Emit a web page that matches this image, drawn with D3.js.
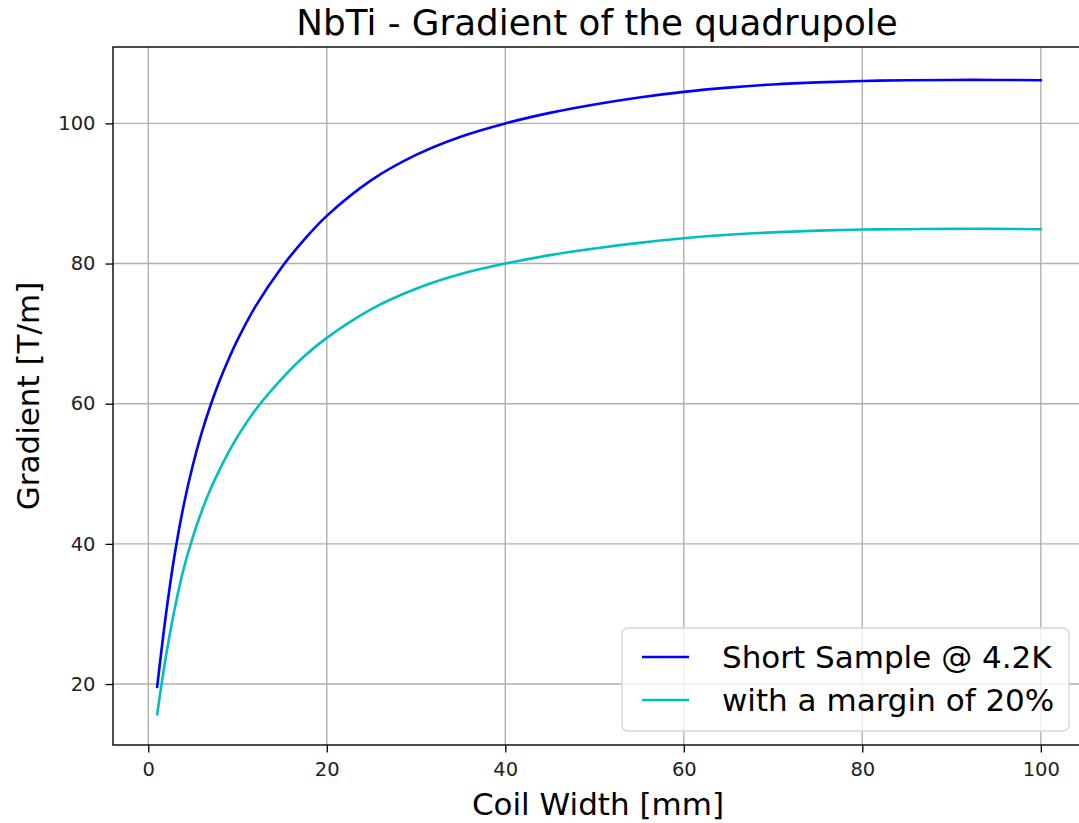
<!DOCTYPE html>
<html>
<head>
<meta charset="utf-8">
<script src="https://cdn.jsdelivr.net/npm/d3@7"></script>
<style>
  html, body { margin: 0; padding: 0; background: #ffffff; }
  svg { display: block; font-family: "DejaVu Sans", sans-serif; }
</style>
</head>
<body>
<svg id="chart" width="1079" height="823"></svg>
<script>
// Coil width samples [mm]
const coilWidth = [1, 2, 3, 4, 5, 6, 7, 8, 9, 10, 12, 15, 17.5, 20, 25, 30, 35, 40, 45, 50, 55, 60, 65, 70, 75, 80, 85, 90, 95, 100];
// Short-sample gradient at 4.2 K [T/m]
const gradientShortSample = [19.6, 30.1, 38.8, 45.7, 51.25, 55.9, 59.85, 63.3, 66.35, 69.1, 73.85, 79.55, 83.45, 86.8, 91.9, 95.5, 98.1, 100.0, 101.5, 102.7, 103.7, 104.5, 105.1, 105.55, 105.85, 106.05, 106.15, 106.2, 106.2, 106.15];
// Gradient with a 20% margin [T/m]
const gradientMargin = [15.7, 24.1, 31.0, 36.6, 41.0, 44.7, 47.9, 50.6, 53.1, 55.3, 59.1, 63.6, 66.8, 69.4, 73.5, 76.4, 78.5, 80.0, 81.2, 82.15, 82.95, 83.6, 84.1, 84.45, 84.7, 84.85, 84.9, 84.95, 84.95, 84.9];

const xTicks = [0, 20, 40, 60, 80, 100];
const yTicks = [20, 40, 60, 80, 100];

const seriesNames = ["Short Sample @ 4.2K", "with a margin of 20%"];
const seriesColors = ["#0000ff", "#00bfbf"];

const svg = d3.select("#chart");

const plotLeft = 113, plotRight = 1085, plotTop = 47, plotBottom = 745;

const x = d3.scaleLinear().domain([-3.95, 104.95]).range([plotLeft, plotRight]);
const y = d3.scaleLinear().domain([11.3, 110.9]).range([plotBottom, plotTop]);

// grid
const grid = svg.append("g");
grid.selectAll(".gx").data(xTicks).join("line")
  .attr("x1", d => x(d)).attr("x2", d => x(d))
  .attr("y1", plotTop).attr("y2", plotBottom)
  .attr("stroke", "#b0b0b0").attr("stroke-width", 1.4);
grid.selectAll(".gy").data(yTicks).join("line")
  .attr("x1", plotLeft).attr("x2", plotRight)
  .attr("y1", d => y(d)).attr("y2", d => y(d))
  .attr("stroke", "#b0b0b0").attr("stroke-width", 1.4);

// curves
const rows = [gradientShortSample, gradientMargin];
const line = d3.line()
  .x((d, i) => x(coilWidth[i]))
  .y(d => y(d))
  .curve(d3.curveCatmullRom.alpha(0.5));

svg.append("g").selectAll("path").data(rows).join("path")
  .attr("d", d => line(d))
  .attr("fill", "none")
  .attr("stroke", (d, i) => seriesColors[i])
  .attr("stroke-width", 2.6)
  .attr("stroke-linecap", "square");

// axes
const xAxis = d3.axisBottom(x).tickValues(xTicks).tickSize(7.5).tickPadding(10).tickFormat(d3.format("d"));
const yAxis = d3.axisLeft(y).tickValues(yTicks).tickSize(7.5).tickPadding(10).tickFormat(d3.format("d"));

const gx = svg.append("g").attr("transform", `translate(0,${plotBottom})`).call(xAxis);
const gy = svg.append("g").attr("transform", `translate(${plotLeft},0)`).call(yAxis);
[gx, gy].forEach(g => {
  g.select(".domain").remove();
  g.selectAll(".tick line").attr("stroke", "#000").attr("stroke-width", 1.3);
  g.selectAll(".tick text").attr("font-size", 19.5).attr("fill", "#222")
    .attr("font-family", "DejaVu Sans, sans-serif");
});

// frame
svg.append("rect")
  .attr("x", plotLeft).attr("y", plotTop)
  .attr("width", plotRight - plotLeft).attr("height", plotBottom - plotTop)
  .attr("fill", "none").attr("stroke", "#000").attr("stroke-width", 1.4);

// title and axis labels
svg.append("text")
  .attr("x", 597).attr("y", 35)
  .attr("text-anchor", "middle").attr("font-size", 35.7).attr("fill", "#000")
  .text("NbTi - Gradient of the quadrupole");

svg.append("text")
  .attr("x", 598).attr("y", 815)
  .attr("text-anchor", "middle").attr("font-size", 31).attr("fill", "#000")
  .text("Coil Width [mm]");

svg.append("text")
  .attr("transform", `translate(39,${(plotTop + plotBottom) / 2}) rotate(-90)`)
  .attr("text-anchor", "middle").attr("font-size", 31).attr("fill", "#000")
  .text("Gradient [T/m]");

// legend
const legend = svg.append("g");
legend.append("rect")
  .attr("x", 622).attr("y", 628).attr("width", 447).attr("height", 103)
  .attr("rx", 6).attr("ry", 6)
  .attr("fill", "#ffffff").attr("fill-opacity", 0.8)
  .attr("stroke", "#d5d5d5").attr("stroke-width", 1.3);

const items = legend.selectAll(".item").data(seriesNames).join("g")
  .attr("transform", (d, i) => `translate(0,${657 + i * 43})`);
items.append("line")
  .attr("x1", 642).attr("x2", 689)
  .attr("stroke", (d, i) => seriesColors[i]).attr("stroke-width", 2.6);
items.append("text")
  .attr("x", 722).attr("y", 0).attr("dy", "0.35em")
  .attr("font-size", 31).attr("fill", "#000")
  .text(d => d);
</script>
</body>
</html>
